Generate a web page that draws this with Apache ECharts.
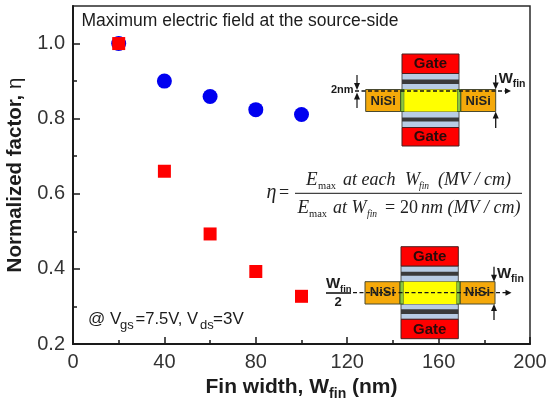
<!DOCTYPE html>
<html>
<head>
<meta charset="utf-8">
<style>html,body{margin:0;padding:0;background:#fff}#c{width:547px;height:404px}</style>
<script src="https://cdn.jsdelivr.net/npm/echarts@6/dist/echarts.min.js"></script>
</head>
<body>
<div id="c"></div>
<script>
var finWidths = [20, 40, 60, 80, 100];
var sourceSideCircles = [1.0, 0.9, 0.859, 0.824, 0.811];
var sourceSideSquares = [1.0, 0.66, 0.493, 0.393, 0.327];
var xTicks = [0, 40, 80, 120, 160, 200];
var yTicks = [0.2, 0.4, 0.6, 0.8, 1.0];
var yMinorTicks = [0.3, 0.5, 0.7, 0.9];

var SANS = '"Liberation Sans", Arial, sans-serif';
var SERIF = '"Liberation Serif", "Times New Roman", serif';
var INK = '#1c1c1c';

function rect(x, y, w, h, fill, stroke) {
  return {type:'rect', z:20, shape:{x:x,y:y,width:w,height:h},
    style:{fill:fill, stroke:stroke||null, lineWidth:stroke?1:0}};
}
function line(x1,y1,x2,y2,w,dash) {
  return {type:'line', z:22, shape:{x1:x1,y1:y1,x2:x2,y2:y2},
    style:{stroke:'#151515', lineWidth:w||1.3, lineDash:dash||null}};
}
function head(x,y,dir) {
  var p = dir==='down' ? [[x-3,y-7],[x+3,y-7],[x,y]]
        : dir==='up' ? [[x-3,y+7],[x+3,y+7],[x,y]]
        : [[x-6,y-3],[x-6,y+3],[x,y]];
  return {type:'polygon', z:22, shape:{points:p}, style:{fill:'#151515'}};
}
function txt(x,y,text,size,weight,align,color,family,style) {
  return {type:'text', z:24, x:x, y:y, style:{text:text, fontSize:size, fontWeight:weight||'normal',
    fontStyle:style||'normal', fontFamily:family||SANS, fill:color||INK, align:align||'left', verticalAlign:'middle'}};
}
function wfin(x,y) {
  return [txt(x,y,'W',15,'bold'), txt(x+14,y+5,'fin',10.5,'bold')];
}
function device(o) {
  var e = [];
  e.push(rect(o.gl, o.g1t, o.gw, o.g1b-o.g1t, '#b8cce4', '#555'));
  e.push(rect(o.gl, o.g2t, o.gw, o.g2b-o.g2t, '#b8cce4', '#555'));
  e.push(rect(o.gl, o.b1t, o.gw, o.b1b-o.b1t, '#3a3a3a'));
  e.push(rect(o.gl, o.b2t, o.gw, o.b2b-o.b2t, '#3a3a3a'));
  e.push(rect(o.gl, o.gt1, o.gw, o.g1t-o.gt1, '#ff0000', '#4a2020'));
  e.push(rect(o.gl, o.g2b, o.gw, o.gb2-o.g2b, '#ff0000', '#4a2020'));
  e.push(rect(o.nl, o.g1b, o.nw, o.g2t-o.g1b, '#f5a90a', '#4a4a30'));
  e.push(rect(o.nr, o.g1b, o.nw, o.g2t-o.g1b, '#f5a90a', '#4a4a30'));
  e.push(rect(o.nl+o.nw, o.g1b, 3.6, o.g2t-o.g1b, '#8cc63f', '#3a5a20'));
  e.push(rect(o.nr-3.6, o.g1b, 3.6, o.g2t-o.g1b, '#8cc63f', '#3a5a20'));
  e.push(rect(o.nl+o.nw+3.6, o.g1b, o.nr-o.nl-o.nw-7.2, o.g2t-o.g1b, '#ffff00'));
  var cx = o.gl + o.gw/2;
  e.push(txt(cx, (o.gt1+o.g1t)/2+0.5, 'Gate', 15, 'bold', 'center', '#2a0a0a'));
  e.push(txt(cx, (o.g2b+o.gb2)/2+0.5, 'Gate', 15, 'bold', 'center', '#2a0a0a'));
  var ny = (o.g1b+o.g2t)/2 + o.nyo;
  e.push(txt(o.nl+o.nw/2, ny, 'NiSi', 13, 'bold', 'center', '#222'));
  e.push(txt(o.nr+o.nw/2, ny, 'NiSi', 13, 'bold', 'center', '#222'));
  e.push(line(o.dl, o.dy, o.dr-5, o.dy, 1.3, [4,2.5]));
  e.push(head(o.dr, o.dy, 'right'));
  e.push(line(o.ax, o.a1, o.ax, o.g1b-5, 1.3));
  e.push(head(o.ax, o.g1b, 'down'));
  e.push(line(o.ax, o.g2t+5, o.ax, o.a2, 1.3));
  e.push(head(o.ax, o.g2t, 'up'));
  return e.concat(wfin(o.ax+3, o.wy));
}

var graphics = [];
graphics = graphics.concat(device({
  gl:402, gw:57, gt1:54, g1t:73.5, g1b:89.5, g2t:111.5, g2b:127.5, gb2:146,
  b1t:79.5, b1b:84, b2t:117.5, b2b:121.5, nl:365.7, nw:35, nr:460.7, nyo:0.5,
  dl:355, dr:511, dy:91, ax:495.7, a1:75, a2:128, wy:79
}));
graphics = graphics.concat(device({
  gl:401, gw:57.3, gt1:246.7, g1t:266, g1b:281.7, g2t:304, g2b:319.3, gb2:338.7,
  b1t:271.7, b1b:275.7, b2t:309.3, b2b:314, nl:365, nw:35, nr:460, nyo:0,
  dl:353, dr:511.5, dy:292.7, ax:494, a1:266.7, a2:320, wy:274
}));
graphics.push(txt(331, 90, '2nm', 11, 'bold'));
graphics.push(line(357, 75, 357, 84, 1.2), head(357, 90, 'down'));
graphics.push(line(357, 99, 357, 108, 1.2), head(357, 92.5, 'up'));
graphics.push(txt(326, 284, 'W', 15, 'bold'), txt(340, 289, 'fin', 9.5, 'bold'));
graphics.push(line(326, 293, 351, 293, 1.6));
graphics.push(txt(338, 302, '2', 13, 'bold', 'center'));

graphics.push(txt(81.5, 21, 'Maximum electric field at the source-side', 17.5));
graphics.push(txt(88, 319, '@ V', 17));
graphics.push(txt(120, 325, 'gs', 13));
graphics.push(txt(135.5, 319, '=7.5V, V', 16.6));
graphics.push(txt(200, 325, 'ds', 13));
graphics.push(txt(213, 319, '=3V', 17));

function ser(x,y,t,size,style){ return txt(x,y,t,size,'normal','left','#222',SERIF,style); }
graphics.push(ser(266.5,193,'η',20,'italic'), ser(279,193,'=',18));
graphics.push(line(295,193.3,522,193.3,1));
graphics.push(ser(306,180,'E',19,'italic'), ser(318,186.5,'max',10.5));
graphics.push(ser(343,180,'at each',18,'italic'), ser(405,180,'W',18,'italic'), ser(419,186.5,'fin',9.5,'italic'));
graphics.push(ser(438,180,'(MV / cm)',18,'italic'));
graphics.push(ser(297.5,208,'E',19,'italic'), ser(309,214.5,'max',10.5));
graphics.push(ser(333,208,'at W',18,'italic'), ser(367,214.5,'fin',9.5,'italic'));
graphics.push(ser(385,208,'=',18), ser(400,208,'20',18), ser(421,208,'nm',18,'italic'));
graphics.push(ser(447.5,208,'(MV / cm)',18,'italic'));

var AXC = '#1a1a1a';
var chart = echarts.init(document.getElementById('c'), null, {renderer:'canvas'});
chart.setOption({
  animation:false,
  backgroundColor:'#fff',
  grid:{left:73, right:17, top:6, height:338, outerBoundsMode:'none', show:true, borderColor:'#2a2a2a', borderWidth:1.5, backgroundColor:'transparent'},
  xAxis:{type:'value', min:xTicks[0], max:xTicks[xTicks.length-1], interval:40,
    name:'{b|Fin width, W}{s|fin}{b| (nm)}', nameLocation:'middle', nameGap:33,
    nameTextStyle:{rich:{
      b:{fontFamily:SANS,fontSize:21,fontWeight:'bold',color:INK,lineHeight:24,verticalAlign:'top'},
      s:{fontFamily:SANS,fontSize:14,fontWeight:'bold',color:INK,lineHeight:24,verticalAlign:'bottom',padding:[8,0,0,0]}}},
    axisLine:{show:true,onZero:false,lineStyle:{color:AXC,width:2}},
    axisTick:{show:true,inside:true,length:7,lineStyle:{color:AXC,width:1.5}},
    minorTick:{show:true,splitNumber:2,length:4,lineStyle:{color:AXC,width:1.5}},
    axisLabel:{fontFamily:SANS,fontSize:20,color:'#333',margin:8},
    splitLine:{show:false}},
  yAxis:[{type:'value', min:yTicks[0], max:1.1, interval:0.2,
    name:'{b|Normalized factor, }{n|η}', nameLocation:'middle', nameGap:44,
    nameTextStyle:{rich:{
      b:{fontFamily:SANS,fontSize:20.5,fontWeight:'bold',color:INK},
      n:{fontFamily:SANS,fontSize:20.5,color:INK}}},
    axisLine:{show:true,onZero:false,lineStyle:{color:AXC,width:2}},
    axisTick:{show:true,inside:true,length:7,lineStyle:{color:AXC,width:1.5},customValues:yTicks},
    minorTick:{show:false},
    axisLabel:{fontFamily:SANS,fontSize:20,color:'#333',margin:8,customValues:yTicks,
      formatter:function(v){return v.toFixed(1);}},
    splitLine:{show:false}},
   {type:'value', position:'left', min:yTicks[0], max:1.1, interval:0.2,
    axisLine:{show:false,onZero:false},
    axisTick:{show:true,inside:true,length:4,lineStyle:{color:AXC,width:1.5},customValues:yMinorTicks},
    axisLabel:{show:false},
    splitLine:{show:false}}],
  series:[
    {name:'Circle', type:'scatter', symbol:'circle', symbolSize:15, z:3,
      itemStyle:{color:'#0000f0',opacity:1},
      data:finWidths.map(function(x,i){return [x,sourceSideCircles[i]];})},
    {name:'Square', type:'scatter', symbol:'rect', symbolSize:13, z:4,
      itemStyle:{color:'#ff0000',opacity:1},
      data:finWidths.map(function(x,i){return [x,sourceSideSquares[i]];})}
  ],
  graphic:{elements:graphics}
});
</script>
</body>
</html>
